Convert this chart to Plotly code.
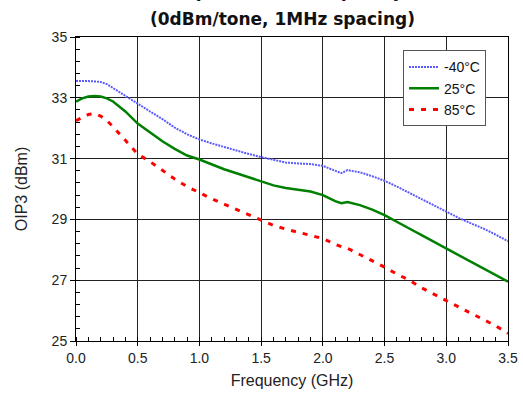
import plotly.graph_objects as go

freq = [0.0, 0.05, 0.1, 0.15, 0.2, 0.25, 0.3, 0.4, 0.5, 0.6, 0.7, 0.8, 0.9, 1.0,
        1.1, 1.2, 1.3, 1.4, 1.5, 1.6, 1.7, 1.8, 1.9, 2.0, 2.1, 2.15, 2.2, 2.3, 2.4,
        2.5, 2.6, 2.7, 2.8, 2.9, 3.0, 3.1, 3.2, 3.3, 3.4, 3.5]

oip3_m40 = [33.55, 33.56, 33.55, 33.54, 33.52, 33.45, 33.32, 33.05, 32.8, 32.55,
            32.3, 32.02, 31.8, 31.63, 31.5, 31.38, 31.28, 31.15, 31.05, 30.95,
            30.87, 30.84, 30.82, 30.76, 30.6, 30.52, 30.62, 30.55, 30.42, 30.27,
            30.08, 29.87, 29.67, 29.45, 29.25, 29.05, 28.87, 28.7, 28.5, 28.28]

oip3_25 = [32.87, 32.98, 33.04, 33.06, 33.04, 32.98, 32.88, 32.55, 32.15, 31.85,
           31.57, 31.32, 31.1, 30.97, 30.8, 30.65, 30.52, 30.38, 30.24, 30.12,
           30.03, 29.97, 29.92, 29.8, 29.6, 29.53, 29.57, 29.47, 29.32, 29.14,
           28.93, 28.7, 28.48, 28.26, 28.05, 27.83, 27.6, 27.38, 27.17, 26.95]

oip3_85 = [32.25, 32.35, 32.45, 32.48, 32.4, 32.25, 32.05, 31.6, 31.15, 30.9,
           30.62, 30.33, 30.08, 29.87, 29.68, 29.5, 29.32, 29.14, 28.98, 28.8,
           28.68, 28.58, 28.48, 28.37, 28.18, 28.1, 28.05, 27.85, 27.65, 27.43,
           27.2, 27.0, 26.75, 26.55, 26.33, 26.12, 25.92, 25.72, 25.5, 25.25]

names = ["-40°C", "25°C", "85°C"]

fig = go.Figure()
fig.add_trace(go.Scatter(x=freq, y=oip3_m40, mode="lines", name=names[0],
                         line=dict(color="#5a5aff", width=2, dash="2px,1px")))
fig.add_trace(go.Scatter(x=freq, y=oip3_25, mode="lines", name=names[1],
                         line=dict(color="#008000", width=2.5)))
fig.add_trace(go.Scatter(x=freq, y=oip3_85, mode="lines", name=names[2],
                         line=dict(color="#ff0000", width=3, dash="5px,7px")))

axis_font = dict(family="Liberation Sans, Arial, sans-serif", size=14, color="#222")

fig.update_layout(
    width=523, height=397,
    margin=dict(l=76, r=15, t=37, b=56),
    paper_bgcolor="white", plot_bgcolor="white",
    showlegend=True,
    legend=dict(x=0.757, y=0.956, xanchor="left", yanchor="top",
                bgcolor="white", bordercolor="#555", borderwidth=1,
                font=dict(family="Liberation Sans, Arial, sans-serif", size=14, color="#111"),
                tracegroupgap=0, itemwidth=30),
    annotations=[
        dict(text="<b>Output IP3 vs. Frequency</b>", xref="paper", yref="paper",
             x=0.477, y=1.0 + (37 - 3) / 304, xanchor="center", yanchor="bottom",
             showarrow=False, font=dict(family="DejaVu Sans, sans-serif", size=17, color="#111")),
        dict(text="<b>(0dBm/tone, 1MHz spacing)</b>", xref="paper", yref="paper",
             x=0.477, y=1.0 + (37 - 19) / 304, xanchor="center", yanchor="middle",
             showarrow=False, font=dict(family="DejaVu Sans, sans-serif", size=17, color="#111")),
    ],
)

fig.update_xaxes(
    range=[0, 3.5], dtick=0.5, tick0=0, tickformat=".1f", automargin=False,
    showline=True, linecolor="black", linewidth=1, mirror=True,
    showgrid=True, gridcolor="#222", gridwidth=1, zeroline=False,
    ticks="outside", ticklen=4, tickcolor="black",
    minor=dict(dtick=0.1, ticks="inside", ticklen=4, tickcolor="black", showgrid=False),
    tickfont=axis_font,
    title=dict(text="Frequency (GHz)", font=dict(family="Liberation Sans, Arial, sans-serif", size=16, color="#222"), standoff=10),
)
fig.update_yaxes(
    range=[25, 35], dtick=2, tick0=25, automargin=False,
    showline=True, linecolor="black", linewidth=1, mirror=True,
    showgrid=True, gridcolor="#222", gridwidth=1, zeroline=False,
    ticks="outside", ticklen=5, tickcolor="black",
    minor=dict(dtick=0.4, tick0=25, ticks="inside", ticklen=4, tickcolor="black", showgrid=False),
    tickfont=axis_font,
    title=dict(text="OIP3 (dBm)", font=dict(family="Liberation Sans, Arial, sans-serif", size=16, color="#222"), standoff=20),
)

fig.write_html("out.html")
